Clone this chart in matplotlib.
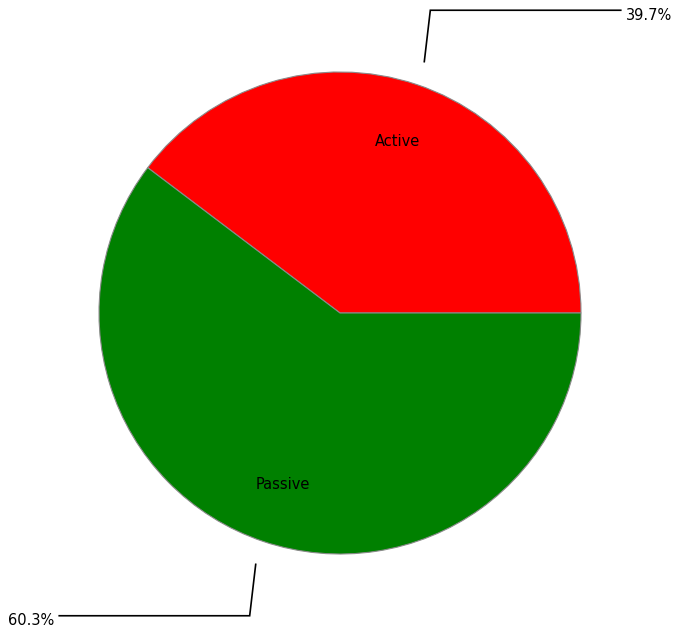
import numpy as np
import matplotlib.pyplot as plt

labels = ["Active", "Passive"]
shares = [39.7, 60.3]
colors = ["#ff0000", "#008000"]

R = 241.0  # pie radius in pixels
fig = plt.figure(figsize=(6.78, 6.35), dpi=100)
ax = fig.add_axes([0, 0, 1, 1])

wedges, texts = ax.pie(shares, labels=labels, colors=colors, startangle=0,
                       counterclock=True, labeldistance=0.75,
                       wedgeprops=dict(edgecolor="#8a8a8a", linewidth=0.8),
                       textprops=dict(fontsize=10.5, color="black"))
for t in texts:
    t.set_horizontalalignment("center")
    t.set_verticalalignment("center")

# leader lines with percentage labels outside the pie
for w, val in zip(wedges, shares):
    mid = np.deg2rad((w.theta1 + w.theta2) / 2)
    c, s = np.cos(mid), np.sin(mid)
    side = 1 if c >= 0 else -1
    x0, y0 = 1.10 * c, 1.10 * s
    x1, y1 = x0 + side * 0.025, 1.325 * s
    x2 = side * 1.165
    ax.plot([x0, x1, x2], [y0, y1, y1], color="black", lw=1.2,
            solid_joinstyle="miter")
    ax.text(x2 + side * 0.02, y1 - 0.02, f"{val:.1f}%", fontsize=10.5,
            ha="left" if side > 0 else "right", va="center")

ax.set_xlim(-340 / R, (678 - 340) / R)
ax.set_ylim(-(635 - 313) / R, 313 / R)
ax.set_aspect("auto")
ax.axis("off")

fig.savefig("out.png", dpi=100)
